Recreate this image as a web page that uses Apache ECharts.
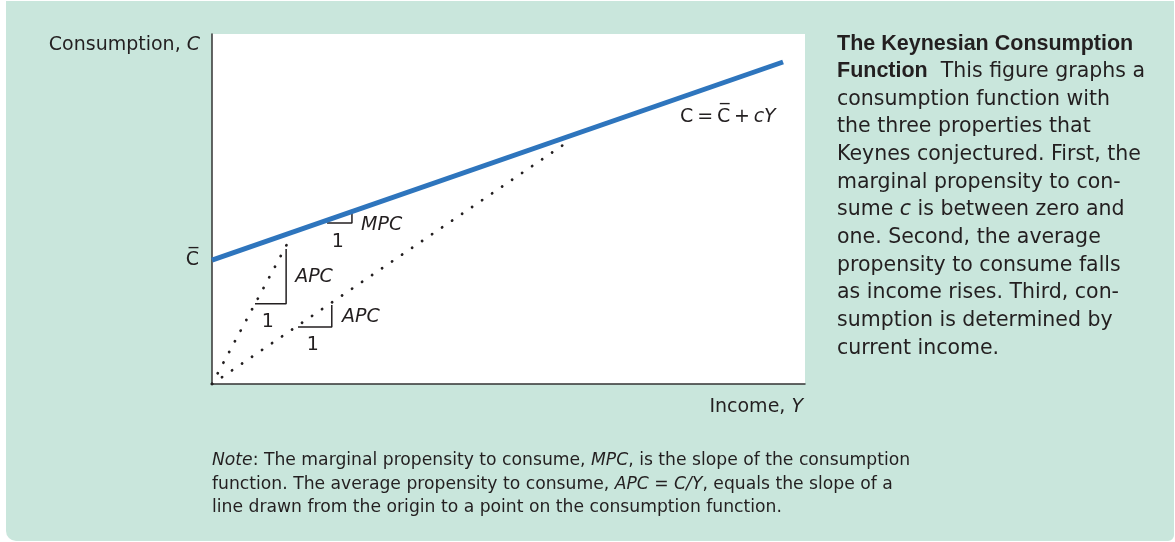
<!DOCTYPE html>
<html lang="en">
<head>
    <meta charset="UTF-8">
    <title>Keynesian Consumption Function</title>
    <style>
        html, body { margin: 0; padding: 0; background: #fff; }
    </style>
</head>
<body>
<script src="https://cdn.jsdelivr.net/npm/echarts@6/dist/echarts.min.js"></script>
<div id="main" style="width: 1175px;height:542px;"></div>
<script type="text/javascript">
    // consumption function C = Cbar + cY (axis units 0..100)
    var consumptionLine = [[0, 35.4], [96.3, 92.0]];
    // rays from the origin to points on the consumption function
    var apcRayHigh = [[0, 0], [13.4, 42.3]];
    var apcRayLow = [[0, 0], [60.7, 70.0]];
    // little slope triangles
    var mpcStep = [[19.4, 46.0], [23.6, 46.0], [23.6, 48.9]];
    var apcStepHigh = [[7.25, 22.9], [12.5, 22.9], [12.5, 38.6]];
    var apcStepLow = [[14.5, 16.3], [20.2, 16.3], [20.2, 22.6]];
    var cbarTick = [35.4];

    // annotation labels in axis units
    var annotations = [
        { value: [28.6, 45.4], text: '{i|MPC}' },
        { value: [21.2, 40.6], text: '1' },
        { value: [17.2, 30.6], text: '{i|APC}' },
        { value: [9.4, 17.7], text: '1' },
        { value: [25.1, 19.1], text: '{i|APC}' },
        { value: [17.0, 11.1], text: '1' },
        { value: [87.0, 76.3], text: 'C\u2009=\u2009C\u0305\u2009+\u2009{i|cY}' }
    ];

    var ink = '#231f20';
    var blue = '#2e75bd';
    var bodyFont = 'DejaVu Sans';

    var myChart = echarts.init(document.getElementById('main'));

    var stepStyle = { color: ink, width: 1.5 };
    var dotStyle = { color: ink, width: 2.8, type: [0.1, 12], cap: 'round' };

    function lineSeries(data, style, z) {
        return {
            type: 'line',
            data: data,
            showSymbol: false,
            symbol: 'none',
            silent: true,
            z: z,
            lineStyle: style
        };
    }

    var option = {
        animation: false,
        backgroundColor: '#fff',
        grid: {
            left: 212,
            top: 34,
            right: 370,
            bottom: 158,
            show: true,
            backgroundColor: '#fff',
            borderWidth: 0,
            outerBoundsMode: 'none'
        },
        xAxis: {
            type: 'value',
            min: 0,
            max: 100,
            name: '{n|Income, }{i|Y}',
            nameLocation: 'end',
            nameGap: 0,
            nameTextStyle: {
                align: 'right',
                verticalAlign: 'top',
                padding: [14, 2, 0, 0],
                rich: {
                    n: { fontFamily: bodyFont, fontSize: 19, color: ink },
                    i: { fontFamily: bodyFont, fontSize: 19, fontStyle: 'italic', color: ink }
                }
            },
            axisLine: { lineStyle: { color: '#333', width: 1.5 } },
            axisTick: { show: false },
            axisLabel: { show: false },
            splitLine: { show: false }
        },
        yAxis: {
            type: 'value',
            min: 0,
            max: 100,
            name: '{n|Consumption, }{i|C}',
            nameLocation: 'end',
            nameGap: -11,
            nameTextStyle: {
                align: 'right',
                verticalAlign: 'middle',
                padding: [0, 12, 0, 0],
                rich: {
                    n: { fontFamily: bodyFont, fontSize: 19, color: ink },
                    i: { fontFamily: bodyFont, fontSize: 19, fontStyle: 'italic', color: ink }
                }
            },
            axisLine: { lineStyle: { color: '#333', width: 1.5 } },
            axisTick: { show: false },
            axisLabel: {
                customValues: cbarTick,
                formatter: function () { return 'C\u0305'; },
                fontFamily: bodyFont,
                fontSize: 19,
                color: ink,
                margin: 13
            },
            splitLine: { show: false }
        },
        series: [
            lineSeries(apcRayHigh, dotStyle, 2),
            lineSeries(apcRayLow, dotStyle, 2),
            lineSeries(apcStepHigh, stepStyle, 3),
            lineSeries(apcStepLow, stepStyle, 3),
            lineSeries(mpcStep, stepStyle, 3),
            lineSeries(consumptionLine, { color: blue, width: 5 }, 5),
            {
                type: 'scatter',
                silent: true,
                symbolSize: 0,
                z: 6,
                itemStyle: { opacity: 1 },
                data: annotations.map(function (a) {
                    return {
                        value: a.value,
                        label: {
                            show: true,
                            position: 'inside',
                            formatter: a.text,
                            fontFamily: bodyFont,
                            fontSize: 19,
                            color: ink,
                            rich: {
                                i: { fontFamily: bodyFont, fontSize: 19, fontStyle: 'italic', color: ink }
                            }
                        }
                    };
                })
            }
        ],
        graphic: [
            {
                type: 'rect',
                z: -10,
                silent: true,
                shape: { x: 6, y: 1, width: 1168, height: 540, r: [0, 0, 6, 10] },
                style: { fill: '#c9e6dc' }
            },
            {
                type: 'text',
                x: 837,
                y: 30,
                silent: true,
                style: {
                    text: '{b|The Keynesian Consumption}\n' +
                        '{b|Function}  This figure graphs a\n' +
                        'consumption function with\n' +
                        'the three properties that\n' +
                        'Keynes conjectured. First, the\n' +
                        'marginal propensity to con-\n' +
                        'sume {i|c} is between zero and\n' +
                        'one. Second, the average\n' +
                        'propensity to consume falls\n' +
                        'as income rises. Third, con-\n' +
                        'sumption is determined by\n' +
                        'current income.',
                    font: '20.5px "DejaVu Sans"',
                    fill: ink,
                    lineHeight: 27.7,
                    rich: {
                        b: { fontFamily: 'Liberation Sans', fontWeight: 'bold', fontSize: 21.5, lineHeight: 27.7, fill: ink },
                        i: { fontFamily: bodyFont, fontStyle: 'italic', fontSize: 20.5, lineHeight: 27.7, fill: ink }
                    }
                }
            },
            {
                type: 'text',
                x: 212,
                y: 449,
                silent: true,
                style: {
                    text: '{i|Note}: The marginal propensity to consume, {i|MPC}, is the slope of the consumption\n' +
                        'function. The average propensity to consume, {i|APC = C/Y}, equals the slope of a\n' +
                        'line drawn from the origin to a point on the consumption function.',
                    font: '17.2px "DejaVu Sans"',
                    fill: ink,
                    lineHeight: 23.5,
                    rich: {
                        i: { fontFamily: bodyFont, fontStyle: 'italic', fontSize: 17.2, lineHeight: 23.5, fill: ink }
                    }
                }
            }
        ]
    };

    myChart.setOption(option);
</script>
</body>
</html>
